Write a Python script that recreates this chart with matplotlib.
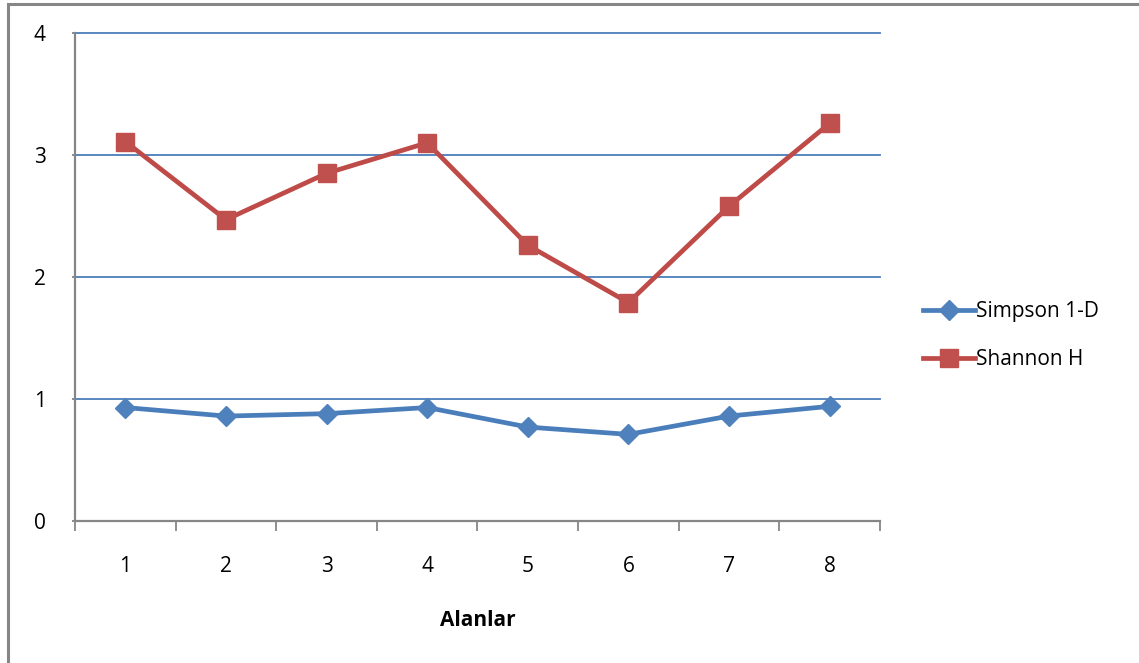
import matplotlib.pyplot as plt
from matplotlib.patches import Rectangle
import numpy as np

plt.rcParams['font.family'] = ['Open Sans', 'DejaVu Sans']

alanlar = ['1', '2', '3', '4', '5', '6', '7', '8']
simpson = [0.93, 0.86, 0.88, 0.93, 0.77, 0.71, 0.86, 0.94]
shannon = [3.11, 2.47, 2.85, 3.10, 2.26, 1.79, 2.58, 3.26]

W, H = 1139, 663
fig = plt.figure(figsize=(W / 100, H / 100), dpi=100)

# chart frame (right and bottom edges fall outside the image)
fig.patches.append(Rectangle((7.5 / W, -0.1), 1.2, (H - 4.5) / H + 0.1,
                             transform=fig.transFigure, fill=False,
                             edgecolor='#868686', linewidth=2.2))

ax = fig.add_axes([75 / W, 1 - 521 / H, 805 / W, 488 / H])

x = np.arange(len(alanlar))
ax.plot(x, simpson, color='#4A7EBB', lw=3.4, marker='D', ms=10,
        mfc='#4F81BD', mec='#4F81BD', label='Simpson 1-D', zorder=3)
ax.plot(x, shannon, color='#BE4B48', lw=3.4, marker='s', ms=13,
        mfc='#C0504D', mec='#C0504D', label='Shannon H', zorder=3)

ax.set_xlim(-0.5, len(alanlar) - 0.5)
ax.set_ylim(0, 4)
ax.set_yticks([0, 1, 2, 3, 4])
for g in [1, 2, 3, 4]:
    ax.axhline(g, color='#4A7EBB', lw=1.3, zorder=1, clip_on=False)

# category ticks sit between the points
ax.set_xticks(np.arange(-0.5, len(alanlar), 1.0))
ax.set_xticklabels([])
ax.set_xticks(x, minor=True)
ax.set_xticklabels(alanlar, minor=True)
ax.tick_params(axis='x', which='major', length=7, width=1.3, color='#868686', direction='out')
ax.tick_params(axis='x', which='minor', length=0, pad=25, labelsize=15)
ax.tick_params(axis='y', length=2, width=1.3, color='#868686', pad=19, labelsize=15)

for s in ['top', 'right']:
    ax.spines[s].set_visible(False)
for s in ['left', 'bottom']:
    ax.spines[s].set_color('#868686')
    ax.spines[s].set_linewidth(1.6)

ax.set_xlabel('Alanlar', fontsize=15, fontweight='bold', labelpad=24)

ax.legend(loc='center left', bbox_to_anchor=(1.03, 0.38), frameon=False,
          fontsize=15, handlelength=2.5, handletextpad=0.05, labelspacing=1.3)

fig.savefig('out.png', dpi=100)
